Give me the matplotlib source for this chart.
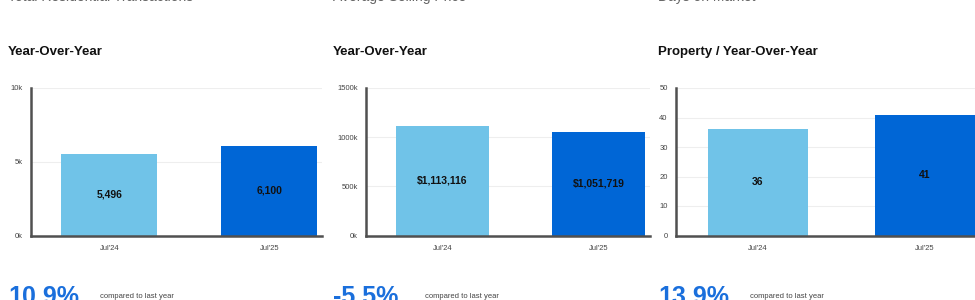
import matplotlib.pyplot as plt
import numpy as np

plt.rcParams['font.family'] = ['Liberation Sans', 'DejaVu Sans']

# data
periods = ["Jul'24", "Jul'25"]
headers = ["Total Residential Transactions", "Average Selling Price", "Days on Market"]
subtitles = ["Year-Over-Year", "Year-Over-Year", "Property / Year-Over-Year"]
transactions = [5496, 6100]
avg_price = [1113116, 1051719]
days_on_market = [36, 41]
changes = ["10.9%", "-5.5%", "13.9%"]

series = [transactions, avg_price, days_on_market]
labels = [
    ["5,496", "6,100"],
    ["$1,113,116", "$1,051,719"],
    ["36", "41"],
]
yticks = [
    ([0, 5000, 10000], ["0k", "5k", "10k"]),
    ([0, 500000, 1000000, 1500000], ["0k", "500k", "1000k", "1500k"]),
    ([0, 10, 20, 30, 40, 50], ["0", "10", "20", "30", "40", "50"]),
]

light = "#70c3e8"
dark = "#0066d6"
blue_txt = "#1a6fdc"

W, H = 975, 300
fig = plt.figure(figsize=(9.75, 3.0), dpi=100)

# panel geometry in pixels: (axis left, axis right, text left)
panels = [(31, 322, 8), (366, 650, 333), (676, 980, 658)]
top_px, bot_px = 88, 235.5

for i, (l, r, tx) in enumerate(panels):
    ax = fig.add_axes([l / W, 1 - bot_px / H, (r - l) / W, (bot_px - top_px) / H])
    vals = series[i]
    x = np.arange(len(vals))
    ax.bar(x, vals, width=0.6, color=[light, dark], zorder=2)
    ax.set_xlim(-0.49, 1.33)
    ticks, tlabels = yticks[i]
    ax.set_ylim(0, ticks[-1])
    ax.set_yticks(ticks)
    ax.set_yticklabels(tlabels)
    ax.set_xticks(x)
    ax.set_xticklabels(periods)
    ax.tick_params(length=0, labelsize=5.5, colors="#444444", pad=6)
    ax.tick_params(axis="x", pad=7)
    for t in ticks[1:]:
        ax.axhline(t, color="#eeeeee", lw=0.8, zorder=0)
    for s in ["top", "right"]:
        ax.spines[s].set_visible(False)
    for s in ["left", "bottom"]:
        ax.spines[s].set_color("#505050")
        ax.spines[s].set_linewidth(1.8)
    for xi, v, lab in zip(x, vals, labels[i]):
        ax.text(xi, v / 2, lab, ha="center", va="center", fontsize=7.5,
                fontweight="bold", color="#111111", zorder=3)

    # headers and footers (clipped by the figure edge, as in the source)
    fig.text(tx / W, 1 + 3 / H, headers[i], ha="left", va="center",
             fontsize=10, color="#666666")
    fig.text(tx / W, 1 - 52 / H, subtitles[i], ha="left", va="center",
             fontsize=9.5, fontweight="bold", color="#111111")
    fig.text(tx / W, 1 - 304 / H, changes[i], ha="left", va="baseline",
             fontsize=18, fontweight="bold", color=blue_txt)
    fig.text((tx + 92) / W, 1 - 297 / H, "compared to last year", ha="left",
             va="center", fontsize=5.5, color="#444444")

fig.savefig("out.png", dpi=100)
